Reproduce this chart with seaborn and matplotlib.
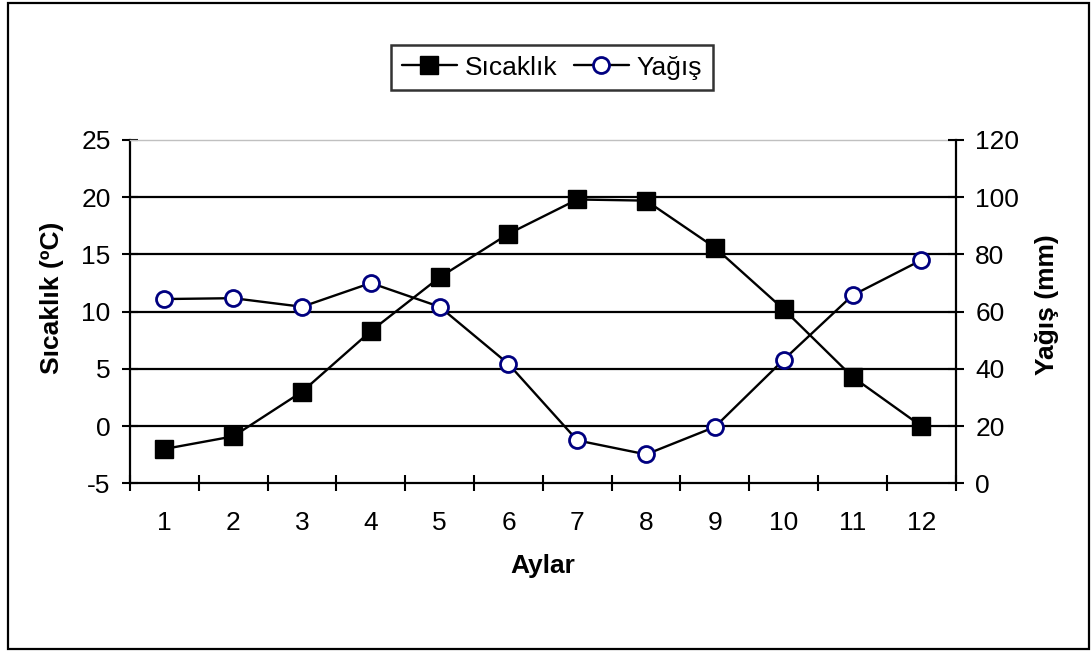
import matplotlib
matplotlib.use("Agg")
import matplotlib.pyplot as plt
from matplotlib.patches import Rectangle
import seaborn as sns
import pandas as pd

# Monthly climate values
months = list(range(1, 13))
temperature = [-2.0, -0.9, 3.0, 8.3, 13.0, 16.8, 19.8, 19.7, 15.6, 10.2, 4.3, 0.0]
precipitation = [64.4, 64.7, 61.7, 70.0, 61.7, 41.7, 15.0, 10.1, 19.7, 43.2, 65.7, 78.0]
temp_ticks = [-5, 0, 5, 10, 15, 20, 25]
precip_ticks = [0, 20, 40, 60, 80, 100, 120]

sns.set_theme(style="white")
plt.rcParams['font.family'] = ['Liberation Sans', 'DejaVu Sans']
plt.rcParams['axes.unicode_minus'] = False
FS = 19

df = pd.DataFrame({"Aylar": months, "Sıcaklık": temperature, "Yağış": precipitation})

fig = plt.figure(figsize=(10.91, 6.51), dpi=100)
fig.patch.set_facecolor("white")
ax = fig.add_axes([0.1192, 0.2576, 0.876 - 0.1192, 0.785 - 0.2576])
ax2 = ax.twinx()

sns.lineplot(data=df, x="Aylar", y="Sıcaklık", ax=ax, color="black", lw=1.7,
             marker="s", markersize=13, markerfacecolor="black",
             markeredgecolor="black", markeredgewidth=1, label="Sıcaklık",
             legend=False, zorder=3)
sns.lineplot(data=df, x="Aylar", y="Yağış", ax=ax2, color="black", lw=1.7,
             marker="o", markersize=11.5, markerfacecolor="white",
             markeredgecolor="#000080", markeredgewidth=2, label="Yağış",
             legend=False, zorder=3)

# Axis ranges and ticks
ax.set_xlim(months[0] - 0.5, months[-1] + 0.5)
ax.set_ylim(temp_ticks[0], temp_ticks[-1])
ax2.set_ylim(precip_ticks[0], precip_ticks[-1])
ax.set_yticks(temp_ticks)
ax2.set_yticks(precip_ticks)
ax.set_xticks(months)
ax.set_xticks([m - 0.5 for m in months] + [months[-1] + 0.5], minor=True)
ax.set_xticklabels([str(m) for m in months])

ax.tick_params(axis="x", which="major", length=0, pad=20, labelsize=FS, labelcolor="black")
ax.tick_params(axis="x", which="minor", direction="inout", length=12, width=1.5,
               color="black", bottom=True)
ax.tick_params(axis="y", direction="inout", length=12, width=1.5, color="black",
               pad=8, labelsize=FS, labelcolor="black", left=True)
ax2.tick_params(axis="y", direction="inout", length=12, width=1.5, color="black",
                pad=8, labelsize=FS, labelcolor="black", right=True)

# Horizontal gridlines on the inner temperature ticks
ax.yaxis.grid(True, color="black", lw=1.6)
ax.xaxis.grid(False)
ax2.grid(False)
gl = ax.get_ygridlines()
gl[0].set_visible(False)
gl[-1].set_visible(False)
ax.set_axisbelow(True)

# Spines
for s in ax.spines.values():
    s.set_color("black")
    s.set_linewidth(1.6)
ax.spines["right"].set_visible(False)
ax.spines["top"].set_color("#c0c0c0")
ax.spines["top"].set_linewidth(1.0)
for name, s in ax2.spines.items():
    s.set_visible(name == "right")
ax2.spines["right"].set_color("black")
ax2.spines["right"].set_linewidth(1.6)

# Axis titles
ax.set_xlabel("Aylar", fontsize=FS, fontweight="bold", color="black")
ax.xaxis.set_label_coords(0.5, -0.241)
ax.xaxis.label.set_va("center")
ax.set_ylabel("Sıcaklık (ºC)", fontsize=FS, fontweight="bold", color="black")
ax.yaxis.label.set_va("center")
ax.yaxis.set_label_coords(-0.0945, 0.541)
ax2.set_ylabel("Yağış (mm)", fontsize=FS, fontweight="bold", color="black", rotation=90)
ax2.yaxis.label.set_va("center")
ax2.yaxis.set_label_coords(1.1106, 0.519)

# Legend
handles = [ax.lines[0], ax2.lines[0]]
leg = fig.legend(handles, ["Sıcaklık", "Yağış"], loc="center",
                 bbox_to_anchor=(0.506, 0.896), bbox_transform=fig.transFigure,
                 ncol=2, fontsize=FS, frameon=True, fancybox=False,
                 handlelength=2.1, handletextpad=0.3, columnspacing=0.6,
                 borderpad=0.4, borderaxespad=0)
leg.get_frame().set_edgecolor("black")
leg.get_frame().set_linewidth(1.8)
for t in leg.get_texts():
    t.set_color("black")

# Outer chart border
fig.patches.append(Rectangle((8 / 1091, 2 / 651), 1081 / 1091, 646 / 651,
                             transform=fig.transFigure, fill=False,
                             edgecolor="black", lw=1.6))

fig.savefig("out.png", dpi=100, facecolor="white")
